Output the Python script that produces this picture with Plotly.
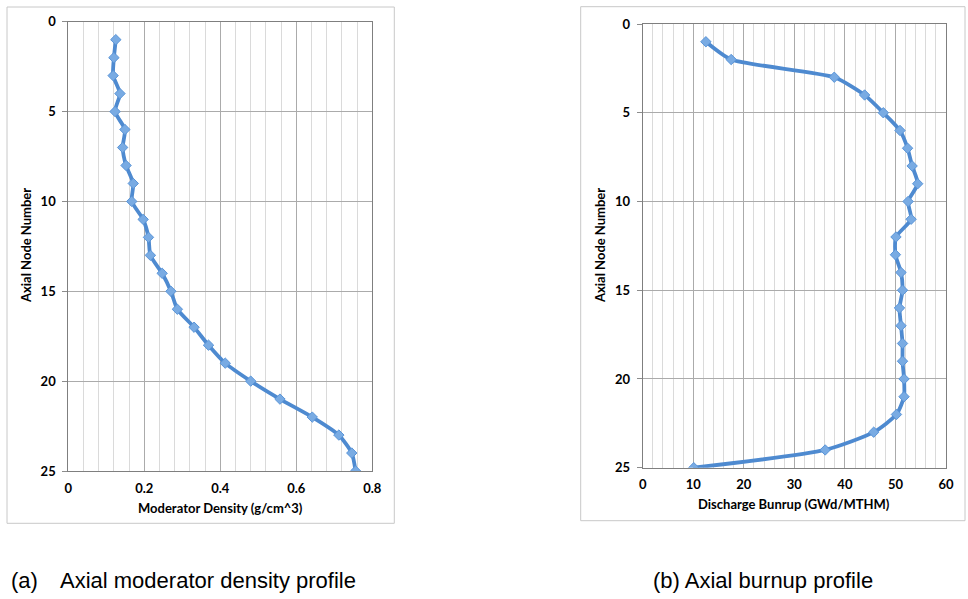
import plotly.graph_objects as go

nodes = list(range(1, 26))
moderator_density = [0.125, 0.120, 0.118, 0.136, 0.123, 0.149, 0.143, 0.152, 0.171, 0.167,
                     0.197, 0.211, 0.216, 0.247, 0.270, 0.287, 0.331, 0.369, 0.413, 0.480,
                     0.557, 0.642, 0.712, 0.746, 0.756]
discharge_burnup = [12.5, 17.5, 37.9, 43.9, 47.6, 50.9, 52.4, 53.3, 54.4, 52.5,
                    53.1, 50.1, 50.0, 51.1, 51.4, 50.8, 51.1, 51.4, 51.4, 51.7,
                    51.7, 50.2, 45.7, 36.1, 10.1]
y_ticks = [0, 5, 10, 15, 20, 25]
x1_ticks = [0, 0.2, 0.4, 0.6, 0.8]
x2_ticks = [0, 10, 20, 30, 40, 50, 60]

W, H = 968, 599
def px(x): return x / W
def py(y): return 1 - y / H

LINE = "#4E8AD0"
MARK = "#79ABE3"
FAM = "Lato, Open Sans, sans-serif"
AXFONT = dict(family=FAM, size=13, color="#000000")
TITLEFONT = dict(family=FAM, size=13, color="#000000")
CAPFONT = dict(family="Liberation Sans, Arial, sans-serif", size=22, color="#000000")

fig = go.Figure()
trace_style = dict(mode="lines+markers",
                   line=dict(color=LINE, width=3.8, shape="spline", smoothing=0.6),
                   marker=dict(symbol="diamond", size=8, color=MARK,
                               line=dict(color="#5A95D8", width=1)),
                   showlegend=False, hoverinfo="x+y")
fig.add_trace(go.Scatter(x=moderator_density, y=nodes, xaxis="x", yaxis="y", **trace_style))
fig.add_trace(go.Scatter(x=discharge_burnup, y=nodes, xaxis="x2", yaxis="y2", **trace_style))

def xaxis(rng, minor, dom, anchor, ticks):
    return dict(domain=dom, anchor=anchor, range=rng, tickvals=ticks,
                ticktext=["<b>%g</b>" % t for t in ticks], automargin=False,
                showgrid=True, gridcolor="#ABABAB", gridwidth=1,
                minor=dict(dtick=minor, showgrid=True, gridcolor="#DADADA", gridwidth=1, ticks=""),
                zeroline=False, showline=True, linecolor="#7F7F7F", linewidth=1, mirror=True,
                ticks="outside", ticklen=5, tickcolor="rgba(0,0,0,0)", tickfont=AXFONT)

def yaxis(dom, anchor):
    return dict(domain=dom, anchor=anchor, range=[25, 0], tickvals=y_ticks,
                ticktext=["<b>%d</b>" % t for t in y_ticks], automargin=False,
                showgrid=True, gridcolor="#ABABAB", gridwidth=1, zeroline=False,
                showline=True, linecolor="#7F7F7F", linewidth=1, mirror=True,
                ticks="outside", ticklen=5, tickcolor="#8C8C8C", tickfont=AXFONT,
                ticklabelstandoff=4)

def title(text, x, y, angle=0):
    return dict(text="<b>" + text + "</b>", xref="paper", yref="paper", x=px(x), y=py(y),
                xanchor="center", yanchor="middle", showarrow=False, textangle=angle, font=TITLEFONT)

fig.update_layout(
    width=W, height=H, margin=dict(l=0, r=0, t=0, b=0),
    paper_bgcolor="white", plot_bgcolor="white",
    xaxis=xaxis([0, 0.8], 0.04, [px(68.3), px(372.3)], "y", x1_ticks),
    yaxis=yaxis([py(471), py(21.7)], "x"),
    xaxis2=xaxis([0, 60], 2, [px(642.7), px(946)], "y2", x2_ticks),
    yaxis2=yaxis([py(467.7), py(24)], "x2"),
    shapes=[
        dict(type="rect", xref="paper", yref="paper", x0=px(7), x1=px(394.3), y0=py(523.3), y1=py(7),
             line=dict(color="#C8C8C8", width=1)),
        dict(type="rect", xref="paper", yref="paper", x0=px(580.7), x1=px(965), y0=py(520.7), y1=py(6.7),
             line=dict(color="#C8C8C8", width=1)),
    ],
    annotations=[
        title("Moderator Density (g/cm^3)", 220, 508),
        title("Axial Node Number", 26, 246, -90),
        title("Discharge Bunrup (GWd/MTHM)", 794, 504),
        title("Axial Node Number", 600, 246, -90),
        dict(text="(a)", xref="paper", yref="paper", x=px(9), y=py(580), xanchor="left", yanchor="middle",
             showarrow=False, font=CAPFONT),
        dict(text="Axial moderator density profile", xref="paper", yref="paper", x=px(58), y=py(580),
             xanchor="left", yanchor="middle", showarrow=False, font=CAPFONT),
        dict(text="(b) Axial burnup profile", xref="paper", yref="paper", x=px(651), y=py(580),
             xanchor="left", yanchor="middle", showarrow=False, font=CAPFONT),
    ],
)

fig.write_html("out.html")
